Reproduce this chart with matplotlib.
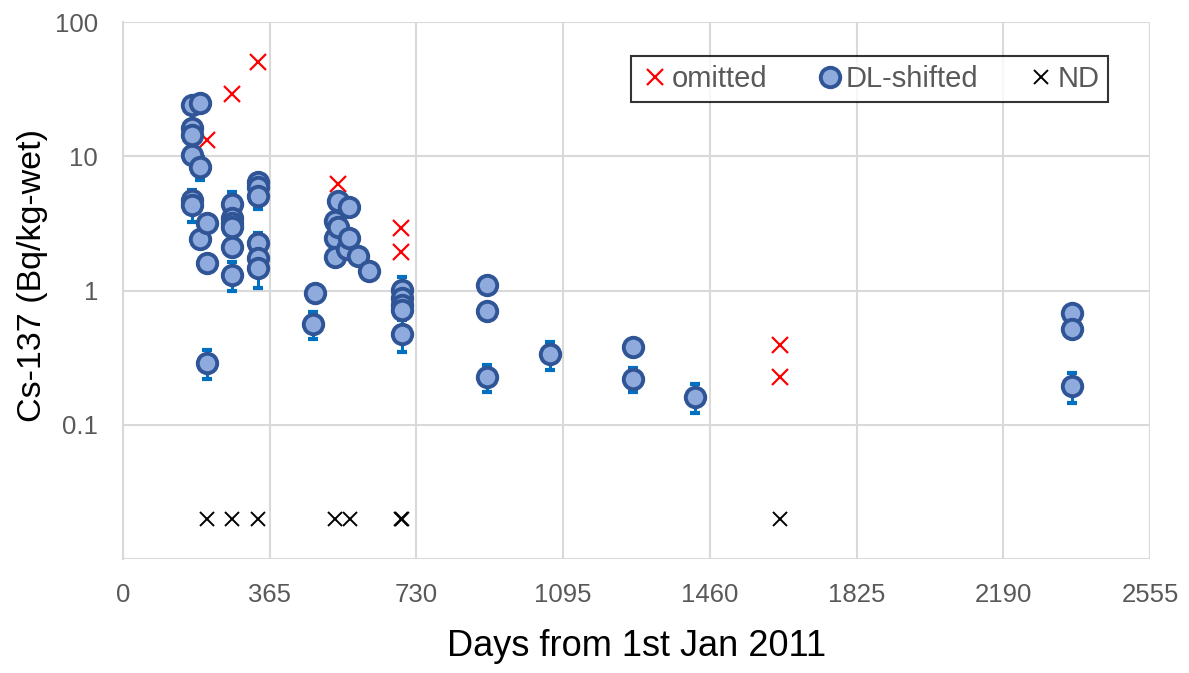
import matplotlib
matplotlib.use("Agg")
import matplotlib.pyplot as plt
from matplotlib.ticker import FixedLocator, FixedFormatter, NullLocator

plt.rcParams['font.family'] = ['Liberation Sans', 'DejaVu Sans']

# DL-shifted measurements (days, Bq/kg-wet, error)
dl_days = [172, 172, 172, 172, 172, 172,
           192, 192, 192,
           209, 209, 209,
           271, 271, 271, 271, 271, 271,
           336, 336, 336, 336, 336, 336,
           473, 478,
           527, 527, 527, 535, 535,
           557, 562, 562, 585, 612,
           693, 693, 693, 693, 693,
           905, 905, 905,
           1062, 1269, 1269, 1423,
           2361, 2361, 2361]
dl_vals = [24.1, 16.3, 14.4, 10.2, 4.73, 4.34,
           25.0, 8.3, 2.42,
           3.18, 1.60, 0.29,
           4.4, 3.5, 3.2, 3.0, 2.1, 1.32,
           6.44, 5.9, 5.06, 2.26, 1.75, 1.48,
           0.564, 0.955,
           3.3, 2.45, 1.79, 4.67, 2.99,
           2.04, 4.22, 2.45, 1.81, 1.41,
           1.01, 0.89, 0.78, 0.72, 0.48,
           1.11, 0.705, 0.229,
           0.336, 0.378, 0.22, 0.162,
           0.678, 0.515, 0.195]
dl_errs = [3.0, 2.0, 1.8, 1.3, 0.9, 1.1,
           3.0, 1.6, 0.35,
           0.4, 0.2, 0.07,
           1.0, 0.5, 0.4, 0.4, 0.3, 0.33,
           0.8, 0.7, 1.0, 0.44, 0.25, 0.44,
           0.13, 0.12,
           0.4, 0.3, 0.2, 0.6, 0.35,
           0.25, 0.5, 0.3, 0.2, 0.18,
           0.25, 0.11, 0.1, 0.09, 0.13,
           0.14, 0.09, 0.053,
           0.077, 0.05, 0.045, 0.04,
           0.08, 0.06, 0.05]

# omitted values
om_days = [209, 271, 336, 535, 692, 692, 1635, 1635]
om_vals = [13.2, 29.1, 50.4, 6.2, 2.92, 1.94, 0.394, 0.227]

# not detected (plotted at fixed level)
nd_days = [209, 271, 336, 527, 565, 692, 693, 1635]
nd_vals = [0.02, 0.02, 0.02, 0.02, 0.02, 0.02, 0.02, 0.02]

x_ticks = [0, 365, 730, 1095, 1460, 1825, 2190, 2555]
y_ticks = [0.1, 1, 10, 100]
y_labels = ["0.1", "1", "10", "100"]

fig = plt.figure(figsize=(11.89, 6.73), dpi=100)
ax = fig.add_axes([0.1035, 0.169, 0.8637, 0.798])

ax.set_yscale("log")
ax.set_xlim(0, 2555)
ax.set_ylim(0.01, 100)

ax.errorbar(dl_days, dl_vals, yerr=dl_errs, fmt='none', ecolor='#0070C0',
            elinewidth=2.2, capsize=3.6, capthick=3.0, zorder=3)
ax.plot(om_days, om_vals, 'x', color='#FF0000', ms=11, mew=1.6,
        label='omitted', zorder=2)
ax.plot(dl_days, dl_vals, 'o', mfc='#8FAADC', mec='#2F5597', ms=14, mew=2.8,
        label='DL-shifted', zorder=4)
ax.plot(nd_days, nd_vals, 'x', color='black', ms=10, mew=1.4,
        label='ND', zorder=2)

ax.xaxis.set_major_locator(FixedLocator(x_ticks))
ax.yaxis.set_major_locator(FixedLocator(y_ticks))
ax.yaxis.set_major_formatter(FixedFormatter(y_labels))
ax.yaxis.set_minor_locator(NullLocator())
ax.grid(True, which='major', color='#D9D9D9', linewidth=1.5, zorder=0)
ax.axhline(0.01, color='#D9D9D9', linewidth=1.5, zorder=0)
ax.set_axisbelow(True)
for s in ax.spines.values():
    s.set_visible(False)
ax.spines['left'].set_visible(True)
ax.spines['left'].set_color('#D9D9D9')
ax.spines['left'].set_linewidth(1.5)
ax.tick_params(length=0, labelsize=18.5, labelcolor='#595959')
ax.tick_params(axis='x', pad=17)
ax.tick_params(axis='y', pad=18)

ax.set_xlabel("Days from 1st Jan 2011", fontsize=26, labelpad=16)
ax.set_ylabel("Cs-137 (Bq/kg-wet)", fontsize=24.5)
ax.yaxis.set_label_coords(-0.073, 0.529)

leg = ax.legend(loc='upper right', ncol=3, fontsize=21, frameon=True,
                fancybox=False, edgecolor='black', handletextpad=0.0,
                columnspacing=1.6, handlelength=1.1, borderpad=0.3,
                borderaxespad=0, bbox_to_anchor=(0.959, 0.937))
leg.get_frame().set_linewidth(1.5)
for t in leg.get_texts():
    t.set_color('#595959')

plt.savefig("out.png", dpi=100)
